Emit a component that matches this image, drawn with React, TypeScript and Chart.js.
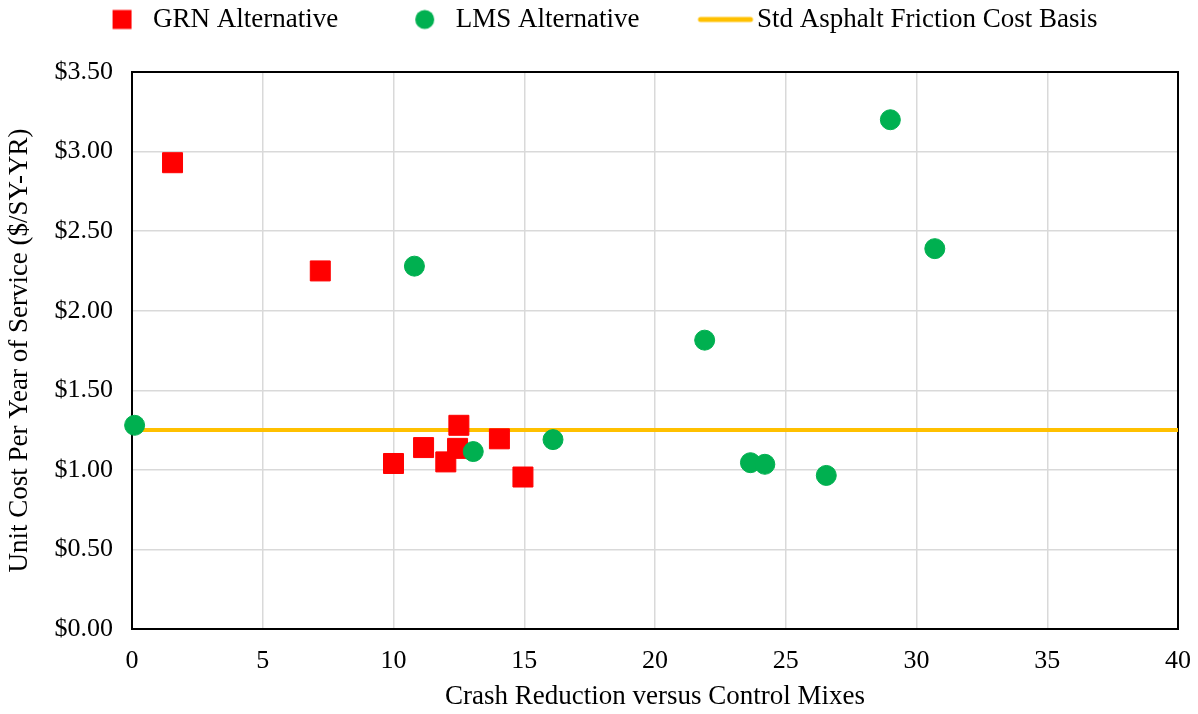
import React, { useEffect, useRef } from 'react';
import { Chart, registerables } from 'chart.js';

Chart.register(...registerables);

// ---- data ----
const seriesLabels = ['GRN Alternative', 'LMS Alternative', 'Std Asphalt Friction Cost Basis'];

const grnX = [1.55, 7.2, 10.0, 11.15, 12.5, 12.45, 12.0, 14.05, 14.95];
const grnY = [2.93, 2.25, 1.04, 1.14, 1.28, 1.135, 1.05, 1.195, 0.955];

const lmsX = [0.1, 10.8, 13.05, 16.1, 21.9, 23.65, 24.2, 26.55, 29.0, 30.7];
const lmsY = [1.28, 2.28, 1.115, 1.19, 1.815, 1.045, 1.035, 0.965, 3.2, 2.39];

const basisX = [0, 40];
const basisY = [1.25, 1.25];

const xTitle = 'Crash Reduction versus Control Mixes';
const yTitle = 'Unit Cost Per Year of Service ($/SY-YR)';

const X_MIN = 0;
const X_MAX = 40;
const X_STEP = 5;
const Y_MIN = 0;
const Y_MAX = 3.5;
const Y_STEP = 0.5;

// ---- styles ----
const RED = '#FF0000';
const GREEN = '#00B050';
const GOLD = '#FFC000';
const GRID = '#d9d9d9';
const FONT = "'Liberation Serif', 'Times New Roman', serif";

const LEFT_PAD = -39;
const RIGHT_PAD = 20;
const LEGEND_BAND = 72;

function makeIcon(kind: string, color: string): HTMLCanvasElement {
  const c = document.createElement('canvas');
  c.width = 120;
  c.height = 24;
  const ctx = c.getContext('2d')!;
  ctx.fillStyle = color;
  ctx.strokeStyle = color;
  const cx = 91.5;
  const cy = 12;
  if (kind === 'square') {
    ctx.fillRect(cx - 9.5, cy - 9.5, 19, 19);
  } else if (kind === 'circle') {
    ctx.beginPath();
    ctx.arc(cx, cy, 9.5, 0, Math.PI * 2);
    ctx.fill();
  } else {
    ctx.lineWidth = 5;
    ctx.lineCap = 'round';
    ctx.beginPath();
    ctx.moveTo(66, cy);
    ctx.lineTo(116, cy);
    ctx.stroke();
  }
  return c;
}

const toPoints = (xs: number[], ys: number[]) => xs.map((x, i) => ({ x, y: ys[i] }));

const legendBandPlugin = {
  id: 'legendBand',
  beforeLayout(chart: any) {
    const lg = chart.legend;
    if (lg && !lg.__banded) {
      const fit = lg.fit.bind(lg);
      lg.fit = () => {
        fit();
        lg.height = LEGEND_BAND;
      };
      lg.__banded = true;
    }
  },
};

const framePlugin = {
  id: 'frame',
  beforeDatasetsDraw(chart: any) {
    const { ctx, chartArea: a } = chart;
    ctx.save();
    ctx.strokeStyle = '#000';
    ctx.lineWidth = 2;
    ctx.strokeRect(a.left, a.top, a.right - a.left, a.bottom - a.top);
    ctx.restore();
  },
};

export default function App() {
  const ref = useRef<HTMLCanvasElement | null>(null);

  useEffect(() => {
    if (!ref.current) return;
    const icons = [makeIcon('square', RED), makeIcon('circle', GREEN), makeIcon('line', GOLD)];

    const chart = new Chart(ref.current, {
      type: 'scatter',
      data: {
        datasets: [
          {
            label: seriesLabels[0],
            data: toPoints(grnX, grnY),
            pointStyle: 'rect',
            pointRadius: 14.14,
            backgroundColor: RED,
            borderColor: RED,
            borderWidth: 1,
            order: 2,
            clip: false,
          },
          {
            label: seriesLabels[1],
            data: toPoints(lmsX, lmsY),
            pointStyle: 'circle',
            pointRadius: 10,
            backgroundColor: GREEN,
            borderColor: GREEN,
            borderWidth: 1,
            order: 1,
            clip: false,
          },
          {
            label: seriesLabels[2],
            data: toPoints(basisX, basisY),
            showLine: true,
            pointRadius: 0,
            borderColor: GOLD,
            backgroundColor: GOLD,
            borderWidth: 4,
            order: 3,
          },
        ],
      } as any,
      options: {
        animation: false,
        responsive: false,
        events: [],
        layout: { padding: { left: LEFT_PAD, right: RIGHT_PAD, top: 0, bottom: 0 } },
        plugins: {
          tooltip: { enabled: false },
          legend: {
            position: 'top',
            align: 'center',
            labels: {
              usePointStyle: true,
              pointStyleWidth: 98,
              padding: 6,
              color: '#000',
              font: { family: FONT, size: 27 },
              generateLabels: (c: any) =>
                c.data.datasets.map((ds: any, i: number) => ({
                  text: ds.label,
                  pointStyle: icons[i],
                  fillStyle: 'rgba(0,0,0,0)',
                  strokeStyle: 'rgba(0,0,0,0)',
                  lineWidth: 0,
                  hidden: false,
                  datasetIndex: i,
                  fontColor: '#000',
                })),
            },
          },
        },
        scales: {
          x: {
            type: 'linear',
            min: X_MIN,
            max: X_MAX,
            ticks: {
              stepSize: X_STEP,
              color: '#000',
              padding: 17,
              maxRotation: 0,
              font: { family: FONT, size: 26 },
            },
            grid: { color: GRID, lineWidth: 1.5, drawTicks: false },
            border: { color: '#000', width: 2 },
            title: {
              display: true,
              text: xTitle,
              color: '#000',
              font: { family: FONT, size: 27 },
              padding: { top: 0, bottom: 1 },
            },
            afterFit: (s: any) => {
              s.height = 85;
              s.paddingRight = 0;
              s.paddingLeft = 0;
            },
          },
          y: {
            type: 'linear',
            min: Y_MIN,
            max: Y_MAX,
            ticks: {
              stepSize: Y_STEP,
              color: '#000',
              padding: 19,
              font: { family: FONT, size: 26 },
              callback: (v: any) => '$' + Number(v).toFixed(2),
            },
            grid: { color: GRID, lineWidth: 1.5, drawTicks: false },
            border: { color: '#000', width: 2 },
            title: {
              display: true,
              text: yTitle,
              color: '#000',
              font: { family: FONT, size: 27 },
              padding: { top: 42.8, bottom: 0 },
            },
            afterFit: (s: any) => {
              s.width = 132 - LEFT_PAD;
            },
          },
        },
      } as any,
      plugins: [legendBandPlugin, framePlugin],
    });

    return () => chart.destroy();
  }, []);

  return (
    <div style={{ position: 'absolute', left: 0, top: 0, width: 1198, height: 714, background: '#fff' }}>
      <canvas ref={ref} width={1198} height={714} style={{ display: 'block' }} />
    </div>
  );
}
